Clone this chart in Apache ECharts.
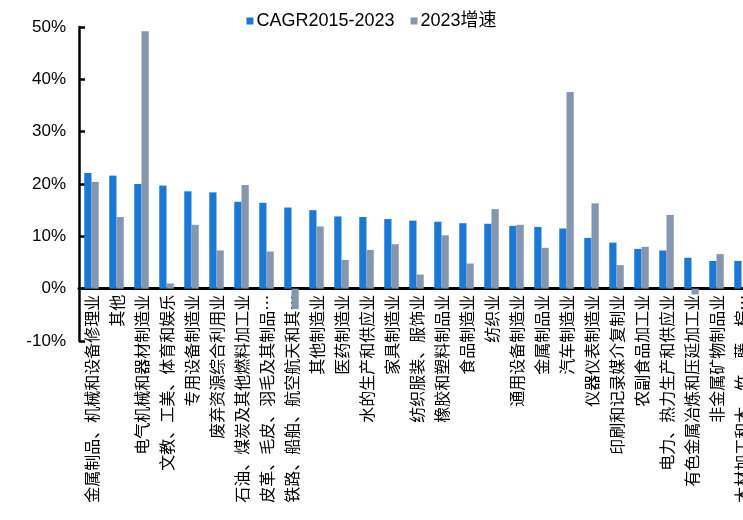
<!DOCTYPE html>
<html>
<head>
<meta charset="utf-8">
<script src="https://cdn.jsdelivr.net/npm/echarts@6/dist/echarts.min.js"></script>
<style>
  html, body { margin: 0; padding: 0; background: #fff; }
  #chart { width: 743px; height: 520px; }
</style>
</head>
<body>
<div id="chart"></div>
<script>
// Industry names (long ones shortened with an ellipsis)
const industries = [
  '金属制品、机械和设备修理业',
  '其他',
  '电气机械和器材制造业',
  '文教、工美、体育和娱乐',
  '专用设备制造业',
  '废弃资源综合利用业',
  '石油、煤炭及其他燃料加工业',
  '皮革、毛皮、羽毛及其制品…',
  '铁路、船舶、航空航天和其…',
  '其他制造业',
  '医药制造业',
  '水的生产和供应业',
  '家具制造业',
  '纺织服装、服饰业',
  '橡胶和塑料制品业',
  '食品制造业',
  '纺织业',
  '通用设备制造业',
  '金属制品业',
  '汽车制造业',
  '仪器仪表制造业',
  '印刷和记录媒介复制业',
  '农副食品加工业',
  '电力、热力生产和供应业',
  '有色金属冶炼和压延加工业',
  '非金属矿物制品业',
  '木材加工和木、竹、藤、棕…'
];

// Compound annual growth 2015-2023, %
const cagr2015to2023 = [
  22.1, 21.6, 20.0, 19.7, 18.6, 18.4, 16.6, 16.4, 15.5, 15.0,
  13.8, 13.7, 13.3, 13.0, 12.8, 12.5, 12.4, 12.0, 11.8, 11.5,
  9.7, 8.8, 7.6, 7.3, 5.9, 5.3, 5.3
];

// Growth in 2023, %
const growth2023 = [
  20.4, 13.7, 49.2, 1.0, 12.2, 7.3, 19.8, 7.1, -3.9, 11.9,
  5.5, 7.4, 8.5, 2.7, 10.2, 4.8, 15.2, 12.2, 7.8, 37.6,
  16.3, 4.5, 8.0, 14.1, -1.1, 6.6, null
];

const seriesNames = ['CAGR2015-2023', '2023增速'];
const yTicks = { min: -10, max: 50, step: 10 };

const latinFont = '"Liberation Sans", Arial, "Noto Sans CJK SC", sans-serif';
const cjkFont = '"Noto Sans CJK SC", "Liberation Sans", sans-serif';

// Plot area geometry (px); category labels hang from the zero line
const plotTop = 27;
const plotBottom = 179;
const plotHeight = 520 - plotTop - plotBottom;
const zeroOffset = plotHeight * (0 - yTicks.min) / (yTicks.max - yTicks.min);

const chart = echarts.init(document.getElementById('chart'), null, { renderer: 'canvas' });

chart.setOption({
  animation: false,
  backgroundColor: '#ffffff',
  legend: {
    data: seriesNames,
    top: 7,
    left: 'center',
    itemWidth: 7,
    itemHeight: 7,
    itemGap: 16,
    icon: 'rect',
    textStyle: { color: '#000', fontSize: 18, fontFamily: latinFont, padding: [0, 0, 0, -2] }
  },
  grid: {
    left: 79, right: -11, top: plotTop, bottom: plotBottom,
    containLabel: false,
    outerBoundsMode: 'none'
  },
  xAxis: {
    type: 'category',
    data: industries,
    axisLine: { onZero: true, lineStyle: { color: '#000', width: 3 } },
    axisTick: { show: false },
    axisLabel: {
      interval: 0,
      rotate: 90,
      margin: 6 - zeroOffset,
      color: '#000',
      fontSize: 16,
      fontFamily: cjkFont,
      hideOverlap: false
    }
  },
  yAxis: {
    type: 'value',
    min: yTicks.min,
    max: yTicks.max,
    interval: yTicks.step,
    splitLine: { show: false },
    axisLine: { show: true, lineStyle: { color: '#000', width: 2.5 } },
    axisTick: { show: true, inside: true, length: 6, lineStyle: { color: '#000', width: 2.5 } },
    axisLabel: {
      formatter: '{value}%',
      color: '#000',
      fontSize: 17,
      margin: 13,
      fontFamily: latinFont
    }
  },
  series: [
    {
      name: seriesNames[0],
      type: 'bar',
      data: cagr2015to2023,
      barGap: '0%',
      barCategoryGap: '42%',
      itemStyle: { color: '#1a78d7' }
    },
    {
      name: seriesNames[1],
      type: 'bar',
      data: growth2023,
      barGap: '0%',
      barCategoryGap: '42%',
      itemStyle: { color: '#8597b0' }
    }
  ]
});
</script>
</body>
</html>
